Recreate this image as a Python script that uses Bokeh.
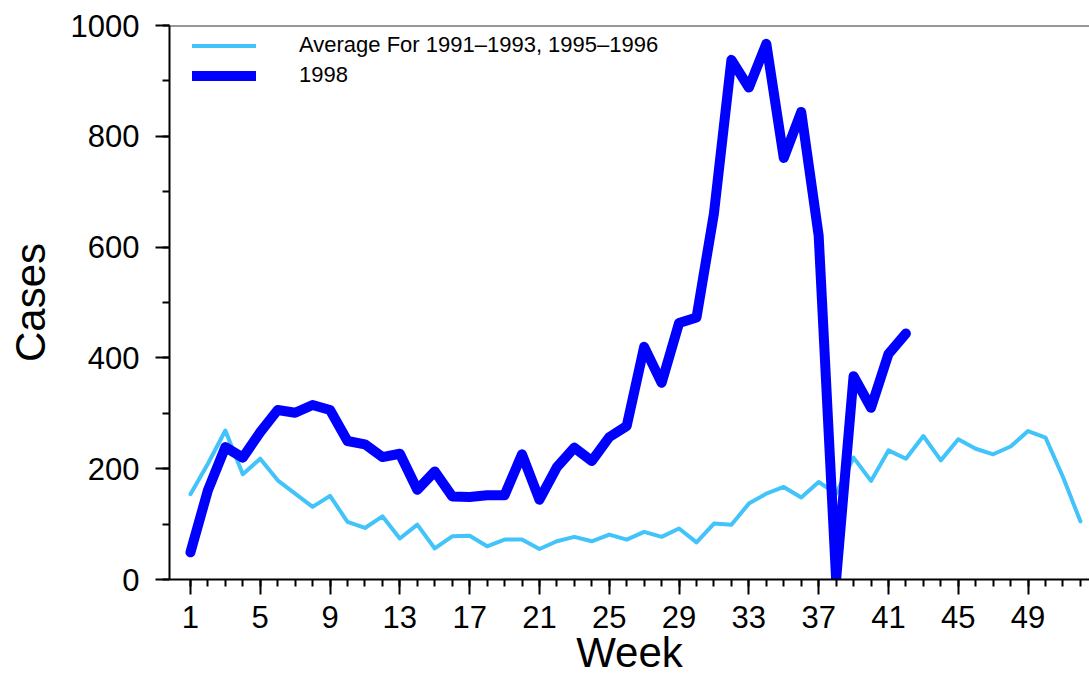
from bokeh.plotting import figure
from bokeh.models import (Range1d, FixedTicker, SingleIntervalTicker, Legend,
                          LegendItem, Span, ColumnDataSource)
from bokeh.embed import file_html
from bokeh.resources import INLINE

# Weekly case counts
weeks_avg = list(range(1, 53))
avg_1991_1996 = [154, 209, 269, 190, 218, 179, 155, 131, 151, 104,
                 93, 114, 74, 99, 56, 78, 79, 60, 72, 72,
                 55, 69, 77, 69, 81, 72, 86, 77, 92, 67,
                 101, 99, 137, 155, 167, 148, 176, 155, 220, 178,
                 233, 218, 259, 215, 253, 236, 226, 240, 268, 256,
                 185, 105]

weeks_1998 = list(range(1, 43))
cases_1998 = [49, 161, 239, 220, 266, 306, 301, 315, 306, 250,
              244, 221, 227, 162, 195, 150, 149, 152, 152, 226,
              144, 203, 238, 214, 257, 277, 420, 355, 463, 473,
              661, 938, 888, 967, 761, 844, 621, 0, 367, 310,
              407, 444]

week_ticks = list(range(1, 50, 4))
week_minor = list(range(1, 53))

legend_labels = ["Average For 1991\u20131993, 1995\u20131996", "1998"]
x_title = "Week"
y_title = "Cases"

FONT = "Liberation Sans"
LIGHT = "#42C3FA"
DARK = "#0000FF"

p = figure(width=1089, height=679,
           x_range=Range1d(-0.2, 52.52), y_range=Range1d(0, 1000),
           output_backend="svg", toolbar_location=None,
           min_border_left=169, min_border_right=0,
           min_border_top=25, min_border_bottom=100,
           background_fill_color="white", border_fill_color="white")
p.outline_line_color = None
p.grid.visible = False

src_avg = ColumnDataSource(dict(week=weeks_avg, cases=avg_1991_1996))
src_98 = ColumnDataSource(dict(week=weeks_1998, cases=cases_1998))

r_avg = p.line("week", "cases", source=src_avg, line_color=LIGHT,
               line_width=4, line_join="round", line_cap="round")
r_98 = p.line("week", "cases", source=src_98, line_color=DARK,
              line_width=10, line_join="round", line_cap="round")

# top border of the plotting area
p.add_layout(Span(location=1000, dimension="width", line_color="#333333",
                  line_width=2))

# x axis
xa = p.xaxis[0]
xa.ticker = FixedTicker(ticks=week_ticks, minor_ticks=week_minor)
xa.axis_label = x_title
xa.axis_line_width = 2
xa.axis_line_color = "black"
xa.major_tick_line_width = 2
xa.major_tick_line_color = "black"
xa.minor_tick_line_width = 2
xa.minor_tick_line_color = "black"
xa.major_tick_out = 15
xa.major_tick_in = 0
xa.minor_tick_out = 7
xa.minor_tick_in = 0
xa.major_label_standoff = 11
xa.major_label_text_font = FONT
xa.major_label_text_font_size = "31px"
xa.major_label_text_color = "black"
xa.axis_label_text_font = FONT
xa.axis_label_text_font_size = "42px"
xa.axis_label_text_font_style = "normal"
xa.axis_label_text_color = "black"
xa.axis_label_standoff = -2

# y axis
ya = p.yaxis[0]
ya.ticker = SingleIntervalTicker(interval=200, num_minor_ticks=2)
ya.axis_label = y_title
ya.axis_line_width = 2
ya.axis_line_color = "black"
ya.major_tick_line_width = 2
ya.major_tick_line_color = "black"
ya.minor_tick_line_width = 2
ya.minor_tick_line_color = "black"
ya.major_tick_out = 14
ya.major_tick_in = 0
ya.minor_tick_out = 7
ya.minor_tick_in = 0
ya.major_label_standoff = 16
ya.major_label_text_font = FONT
ya.major_label_text_font_size = "31px"
ya.major_label_text_color = "black"
ya.axis_label_text_font = FONT
ya.axis_label_text_font_size = "42px"
ya.axis_label_text_font_style = "normal"
ya.axis_label_text_color = "black"
ya.axis_label_standoff = 14

legend = Legend(items=[LegendItem(label=legend_labels[0], renderers=[r_avg]),
                       LegendItem(label=legend_labels[1], renderers=[r_98])],
                location=(23, 491), padding=0, margin=0, spacing=4,
                glyph_width=64, glyph_height=25, label_height=25,
                label_standoff=43, label_text_font=FONT,
                label_text_font_size="22px", label_text_color="black",
                border_line_color=None, background_fill_alpha=0)
p.add_layout(legend, "center")

open("out.html", "w").write(file_html(p, INLINE))
